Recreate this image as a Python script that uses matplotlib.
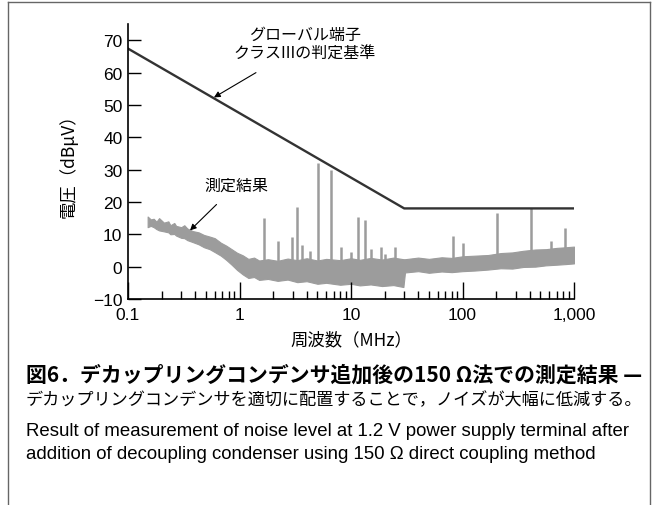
import numpy as np
import matplotlib
matplotlib.use("Agg")
import matplotlib.pyplot as plt
from matplotlib.lines import Line2D

plt.rcParams['font.family'] = ['Noto Sans CJK JP', 'DejaVu Sans']

# limit line (class III global terminal)
limit_f = [0.1, 30, 1000]
limit_db = [67.4, 18.0, 18.0]

# noise floor envelope
env_f = [0.15, 0.16, 0.17, 0.18, 0.19, 0.21, 0.23, 0.24, 0.26, 0.27, 0.30, 0.32,
         0.34, 0.38, 0.43, 0.48, 0.54, 0.60, 0.68, 0.76, 0.85, 0.95, 1.07, 1.2,
         1.35, 1.5, 1.8, 2.2, 2.7, 3.3, 4, 5, 6, 8, 10, 12, 15, 19, 24, 29.5,
         30.5, 40, 50, 65, 80, 100, 130, 170, 220, 280, 350, 450, 560, 700, 850,
         1000]
env_top = [15.5, 14.6, 14.8, 13.9, 15.0, 13.6, 14.0, 12.8, 13.5, 12.6, 12.2, 12.8,
           11.8, 11.0, 10.6, 9.8, 9.3, 8.8, 7.4, 6.5, 5.4, 4.3, 3.5, 2.4,
           2.8, 1.9, 2.3, 1.8, 2.5, 2.0, 2.6, 1.9, 2.4, 2.0, 2.6, 2.1, 2.7, 2.2,
           2.8, 2.3, 2.3, 2.8, 2.4, 2.9, 2.7, 3.2, 3.4, 3.6, 4.2, 4.4, 4.9, 5.3,
           5.4, 5.8, 6.0, 6.2]
env_bot = [12.2, 12.6, 12.2, 11.6, 11.2, 10.9, 10.6, 10.0, 10.1, 9.6, 8.9, 8.8,
           8.2, 7.6, 6.9, 6.0, 5.4, 4.5, 3.4, 2.1, 0.6, -1.0, -2.4, -3.5,
           -3.2, -4.1, -3.8, -4.4, -4.0, -4.8, -4.5, -5.3, -5.0, -5.6, -5.3, -5.8,
           -5.5, -6.0, -5.7, -6.3, -1.8, -1.4, -1.9, -1.5, -1.7, -1.4, -1.2, -0.9,
           -0.5, -0.6, -0.1, 0.0, 0.4, 0.6, 0.8, 1.0]

# spurious peaks
spike_f = [1.66, 2.2, 2.94, 3.30, 3.66, 4.33, 5.02, 6.58, 8.17, 9.9, 11.6, 13.3,
           15.0, 18.4, 20.3, 24.9, 82, 102, 204, 408, 620, 830]
spike_db = [14.9, 7.9, 9.3, 18.5, 6.7, 4.9, 31.9, 29.8, 6.2, 4.4, 15.4, 14.4,
            5.4, 6.2, 3.8, 6.2, 9.6, 7.2, 16.7, 18.0, 7.9, 11.8]

x_ticks = [0.1, 1, 10, 100, 1000]
x_ticklabels = ['0.1', '1', '10', '100', '1,000']
y_ticks = [-10, 0, 10, 20, 30, 40, 50, 60, 70]

fig = plt.figure(figsize=(6.53, 5.06), dpi=100)
ax = fig.add_axes([128 / 653, 206 / 506, 446 / 653, 275 / 506])

gray = '#9c9c9c'
ax.fill_between(env_f, env_bot, env_top, color=gray, lw=0.8, edgecolor=gray)
ax.vlines(spike_f, 1.0, spike_db, color=gray, lw=1.8)
ax.plot(limit_f, limit_db, color='#333333', lw=1.7)

ax.set_xscale('log')
ax.set_xlim(0.1, 1000)
ax.set_ylim(-10, 75)
ax.set_xticks(x_ticks)
ax.set_xticklabels(x_ticklabels, family='Liberation Sans', fontsize=12.5)
ax.set_yticks(y_ticks)
ax.set_yticklabels([str(v).replace('-', '\u2212') for v in y_ticks],
                   family='Liberation Sans', fontsize=12.5)
ax.tick_params(axis='x', which='major', direction='in', length=12, width=1, pad=6)
ax.tick_params(axis='x', which='minor', direction='in', length=6, width=1)
ax.tick_params(axis='y', direction='in', length=9, width=1, pad=4)
ax.xaxis.set_minor_formatter(plt.NullFormatter())
for s in ['top', 'right']:
    ax.spines[s].set_visible(False)
for s in ['left', 'bottom']:
    ax.spines[s].set_linewidth(1.2)

ax.annotate('グローバル端子\nクラスIIIの判定基準', xy=(0.59, 52.3), xytext=(3.86, 68.9),
            ha='center', va='center', fontsize=11.5, linespacing=1.1,
            arrowprops=dict(arrowstyle='-|>', color='black', lw=0.8,
                            shrinkA=12, shrinkB=0, mutation_scale=9))
ax.annotate('測定結果', xy=(0.36, 11.2), xytext=(0.93, 25.1),
            ha='center', va='center', fontsize=11.5,
            arrowprops=dict(arrowstyle='-|>', color='black', lw=0.8,
                            shrinkA=8, shrinkB=0, mutation_scale=9))

fig.text(68 / 653, 1 - 162 / 506, '電圧（dBμV）', rotation=90, ha='center', va='center',
         fontsize=12.5)
fig.text(351 / 653, 1 - 340 / 506, '周波数（MHz）', ha='center', va='center', fontsize=12.5)

fig.text(26 / 653, 1 - 375 / 506, '図6．デカップリングコンデンサ追加後の150 Ω法での測定結果 —',
         ha='left', va='center', fontsize=15.0, fontweight='bold')
fig.text(26 / 653, 1 - 400 / 506, 'デカップリングコンデンサを適切に配置することで，ノイズが大幅に低減する。',
         ha='left', va='center', fontsize=12.35)
fig.text(26 / 653, 1 - 432 / 506,
         'Result of measurement of noise level at 1.2 V power supply terminal after',
         ha='left', va='center', fontsize=13.4, family='Liberation Sans')
fig.text(26 / 653, 1 - 455 / 506,
         'addition of decoupling condenser using 150 Ω direct coupling method',
         ha='left', va='center', fontsize=13.4, family='Liberation Sans')

# frame round the figure (open at the bottom)
fc = '#666666'
fig.add_artist(Line2D([8 / 653, 8 / 653], [0, 1 - 3 / 506], color=fc, lw=1))
fig.add_artist(Line2D([650 / 653, 650 / 653], [0, 1 - 3 / 506], color=fc, lw=1))
fig.add_artist(Line2D([8 / 653, 650 / 653], [1 - 3 / 506, 1 - 3 / 506], color=fc, lw=1))

fig.savefig('out.png', dpi=100)
